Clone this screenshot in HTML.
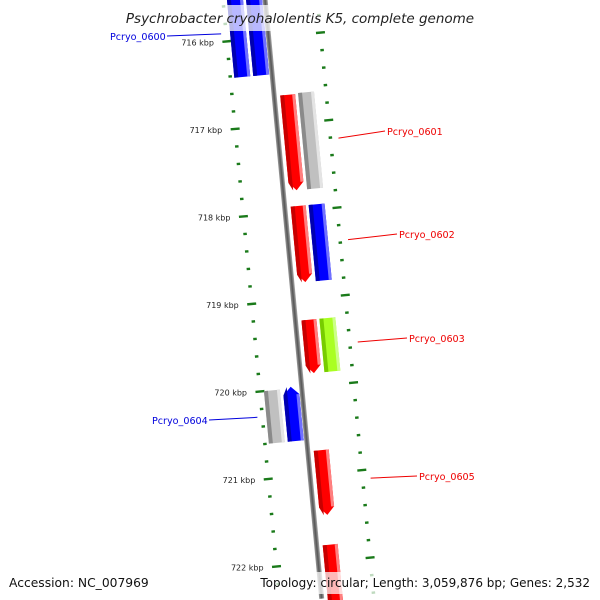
<!DOCTYPE html>
<html><head><meta charset="utf-8"><style>
html,body{margin:0;padding:0;background:#fff;width:600px;height:600px;overflow:hidden;}
svg{display:block;font-family:"DejaVu Sans","Liberation Sans",sans-serif;}
</style></head><body>
<svg id="chart" width="600" height="600" viewBox="0 0 600 600" xmlns="http://www.w3.org/2000/svg" overflow="hidden">
<defs>
<linearGradient id="axisGrad" x1="0" x2="1" y1="0" y2="0"><stop offset="0" stop-color="#9a9a9a"/><stop offset="0.5" stop-color="#555"/><stop offset="1" stop-color="#aaa"/></linearGradient>
</defs>
<g id="track" transform="translate(293.5,300) rotate(-5.4)"></g>
<g id="labels"></g>
<rect x="122" y="5" width="356" height="26" fill="#fff" fill-opacity="0.72"/>
<text x="300" y="23" text-anchor="middle" font-size="13.5" font-style="italic" fill="#222">Psychrobacter cryohalolentis K5, complete genome</text>
<rect x="262" y="572" width="330" height="22" fill="#fff" fill-opacity="0.72"/>
<text x="9" y="587" font-size="12.3" fill="#111">Accession: NC_007969</text>
<text x="590" y="587" text-anchor="end" font-size="12" fill="#111">Topology: circular; Length: 3,059,876 bp; Genes: 2,532</text>
</svg>
<script>
const NS="http://www.w3.org/2000/svg";
// data
const geneStart=[715.3,715.3,716.67,716.66,717.94,717.94,719.24,719.24,719.98,720.0,720.73,721.81];
const geneEnd=[716.42,716.42,717.76,717.76,718.81,718.81,719.85,719.85,720.6,720.6,721.47,722.7];
const geneStrand=[-1,-1,1,1,1,1,1,1,-1,-1,1,1];
const geneLane=[1,0,0,1,0,1,0,1,0,1,0,0];
const geneKind=["cds","cds","gene","other","gene","cds","gene","rna","cds","other","gene","gene"];
const majorTicks=[716,717,718,719,720,721,722];
const tickLabels=["716 kbp","717 kbp","718 kbp","719 kbp","720 kbp","721 kbp","722 kbp"];
const labelNames=["Pcryo_0600","Pcryo_0601","Pcryo_0602","Pcryo_0603","Pcryo_0604","Pcryo_0605"];
const labelGene=[0,2,4,6,8,10];

const colors={gene:["#ff0000","#c80000","#ff8080"],cds:["#0000ff","#0000b0","#7070ff"],other:["#c0c0c0","#8a8a8a","#e4e4e4"],rna:["#aaff22","#77cc00","#ccff88"]};
const CENTER=719, PX=87.9, SIN=Math.sin(5.4*Math.PI/180), COS=Math.cos(5.4*Math.PI/180);
function vOf(k){return (k-CENTER)*PX;}
function toScreen(u,v){return [293.5+u*COS+v*SIN, 300-u*SIN+v*COS];}
const track=document.getElementById('track');
const labels=document.getElementById('labels');
function mk(tag,attrs,parent){const e=document.createElementNS(NS,tag);for(const k in attrs)e.setAttribute(k,attrs[k]);parent.appendChild(e);return e;}

const ax=mk('rect',{x:-2.5,y:-320,width:5,height:620,fill:'url(#axisGrad)'},track);



for(let i=0;i<=40;i++){
  const k=715.0+i*0.2; const kr=Math.round(k*10)/10;
  const major=Math.abs(kr-Math.round(kr))<1e-6;
  const v=vOf(kr);
  const w=major?9:3.5;
  [-42,52].forEach(function(u){
    const t=mk('rect',{x:u-w/2,y:v-1.2,width:w,height:2.4,fill:'#1a7a1a'},track);
    
    
  });
}
majorTicks.forEach(function(k,i){
  const p=toScreen(-55,vOf(k));
  const t=mk('text',{x:p[0],y:p[1]+3,'text-anchor':'end','font-size':'8',fill:'#222'},labels);
  t.textContent=tickLabels[i];
  
  
});

const laneU={'1':[6,21],'1b':[24,40],'-1':[-19,-3],'-1b':[-38,-22]};
geneStart.forEach(function(s,i){
  const st=geneStrand[i];
  const key=String(st)+(geneLane[i]?'b':'');
  const u0=laneU[key][0],u1=laneU[key][1];
  const v0=vOf(s),v1=vOf(geneEnd[i]);
  const c=colors[geneKind[i]];
  const head=geneKind[i]==='gene'||(geneKind[i]==='cds'&&st<0&&geneLane[i]===0)?8:0;
  const um=(u0+u1)/2;
  let pts;
  if(st>0) pts=[[u0,v0],[u1,v0],[u1,v1-head],[um,v1],[u0,v1-head]];
  else pts=[[u0,v0+head],[um,v0],[u1,v0+head],[u1,v1],[u0,v1]];
  const g=mk('g',{},track);
  
  
  mk('polygon',{points:pts.map(p=>p.join(',')).join(' '),fill:c[0]},g);
  const dp=pts.map(p=>[Math.min(p[0],u0+4),p[1]]);
  mk('polygon',{points:dp.map(p=>p.join(',')).join(' '),fill:c[1]},g);
  mk('rect',{x:u1-3,y:v0+(st<0?head:0),width:3,height:Math.max(0,v1-v0-head),fill:c[2]},g);
});

const labelPos=[[110,40,'#0000dd'],[387,135,'#ee0000'],[399,238,'#ee0000'],[409,342,'#ee0000'],[152,424,'#0000dd'],[419,480,'#ee0000']];
labelNames.forEach(function(n,i){
  const gi=labelGene[i];
  const st=geneStrand[gi];
  const vm=(vOf(geneStart[gi])+vOf(geneEnd[gi]))/2;
  const anchorV=gi===0?vOf(geneEnd[gi])-45:vm;
  const a=toScreen(st>0?60:-47,anchorV);
  const lp=labelPos[i];
  const lx=st>0?lp[0]-2:lp[0]+57;
  const ln=mk('line',{x1:a[0],y1:a[1],x2:lx,y2:lp[1]-4,stroke:lp[2],'stroke-width':1},labels);
  
  
  const t=mk('text',{x:lp[0],y:lp[1],'font-size':'9.6',fill:lp[2]},labels);
  t.textContent=n;
  
  
});
</script>
</body></html>
